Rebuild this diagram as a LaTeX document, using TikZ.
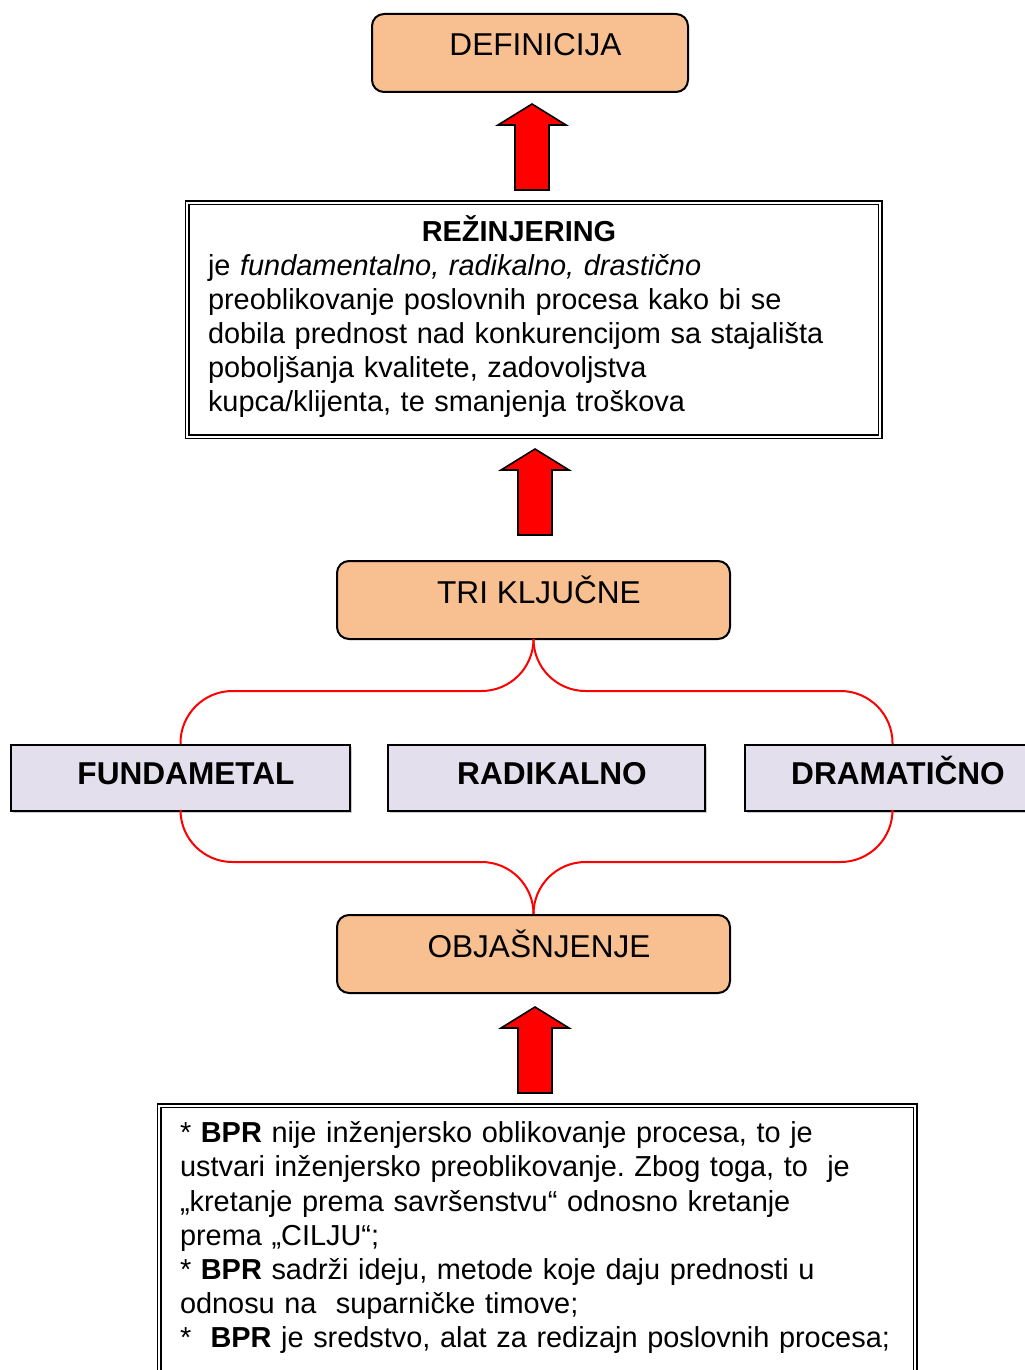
\documentclass[tikz,border=0pt]{standalone}
\usepackage{fontspec}
\setmainfont{Liberation Sans}
\frenchspacing
\usetikzlibrary{positioning,shadows}
\definecolor{boxpeach}{RGB}{248,192,144}
\definecolor{keylilac}{RGB}{227,223,236}
\newcommand{\headsize}{\fontsize{15.8}{19}\selectfont}
\newcommand{\bodysize}{\fontsize{14.45}{17.05}\selectfont}

\begin{document}
\begin{tikzpicture}[
  x=0.5pt, y=-0.5pt,
  peachbox/.style={draw=black, line width=1pt, rounded corners=6pt,
                   fill=boxpeach, inner sep=0pt, minimum height=39pt,
                   text height=21pt, text depth=18pt, font=\headsize,
                   execute at begin node={\hspace*{5.5pt}}},
  keybox/.style={draw=black, line width=1pt, fill=keylilac, inner sep=0pt,
                 minimum height=33pt, text height=19.5pt, text depth=13.5pt,
                 font=\headsize\bfseries,
                 execute at begin node={\hspace*{5.5pt}},
                 drop shadow={shadow xshift=1pt, shadow yshift=-1pt,
                              fill=black!40}},
  textframe/.style={draw=black, line width=0.75pt, double=white,
                    double distance=1pt, align=left, font=\bodysize,
                    inner xsep=10.5pt},
  branch/.style={draw=red, line width=1pt, rounded corners=26pt},
  uparrow/.pic={
    \draw[line width=0.8pt, fill=red, line join=miter]
      (0,0) -- (34,21) -- (17,21) -- (17,86) -- (-17,86) -- (-17,21)
      -- (-34,21) -- cycle;}
]
\useasboundingbox (0,0) rectangle (1024,1370);

\node[peachbox, minimum width=158pt, anchor=north] (def) at (530,13)
  {DEFINICIJA};
\node[textframe, anchor=north, text width=325.5pt, inner ysep=0pt,
      minimum height=117pt, text depth=91.3pt] (rez) at (533.5,202)
  {{\centering\textbf{REŽINJERING}\hspace*{14.5pt}\par}
   je \textit{fundamentalno, radikalno, drastično}\\
   preoblikovanje poslovnih procesa kako bi se\\
   dobila prednost nad konkurencijom sa stajališta\\
   poboljšanja kvalitete, zadovoljstva\\
   kupca/klijenta, te smanjenja troškova};
\node[peachbox, minimum width=196.5pt, anchor=north] (tri) at (533.5,560)
  {TRI KLJUČNE};
\node[keybox, minimum width=169.5pt, anchor=north] (fund) at (180.5,744)
  {FUNDAMETAL};
\node[keybox, minimum width=158.5pt, anchor=north] (rad) at (546.5,744)
  {RADIKALNO};
\node[keybox, minimum width=147.5pt, anchor=north] (dram) at (892.5,744)
  {DRAMATIČNO};
\node[peachbox, minimum width=196.5pt, anchor=north] (obj) at (533.5,914)
  {OBJAŠNJENJE};
\node[textframe, anchor=north, text width=357pt, inner ysep=8pt,
      text depth=140pt] (bpr) at (537,1105)
  {* \textbf{BPR} nije inženjersko oblikovanje procesa, to je\\
   ustvari inženjersko preoblikovanje. Zbog toga, to\ \ je\\
   „kretanje prema savršenstvu“ odnosno kretanje\\
   prema „CILJU“;\\
   {*} \textbf{BPR} sadrži ideju, metode koje daju prednosti u\\
   odnosu na\ \ suparničke timove;\\
   {*}\ \ \textbf{BPR} je sredstvo, alat za redizajn poslovnih procesa;};

\coordinate (upbar) at (0,691);
\coordinate (lowbar) at (0,862);
\draw[branch] (tri.south) |- (upbar -| fund.north) -- (fund.north);
\draw[branch] (tri.south) |- (upbar -| dram.north) -- (dram.north);
\draw[branch] (fund.south) |- (lowbar -| obj.north) -- (obj.north);
\draw[branch] (dram.south) |- (lowbar -| obj.north) -- (obj.north);

\pic at (532,104) {uparrow};
\pic at (535,449) {uparrow};
\pic at (535,1007) {uparrow};
\end{tikzpicture}
\end{document}
